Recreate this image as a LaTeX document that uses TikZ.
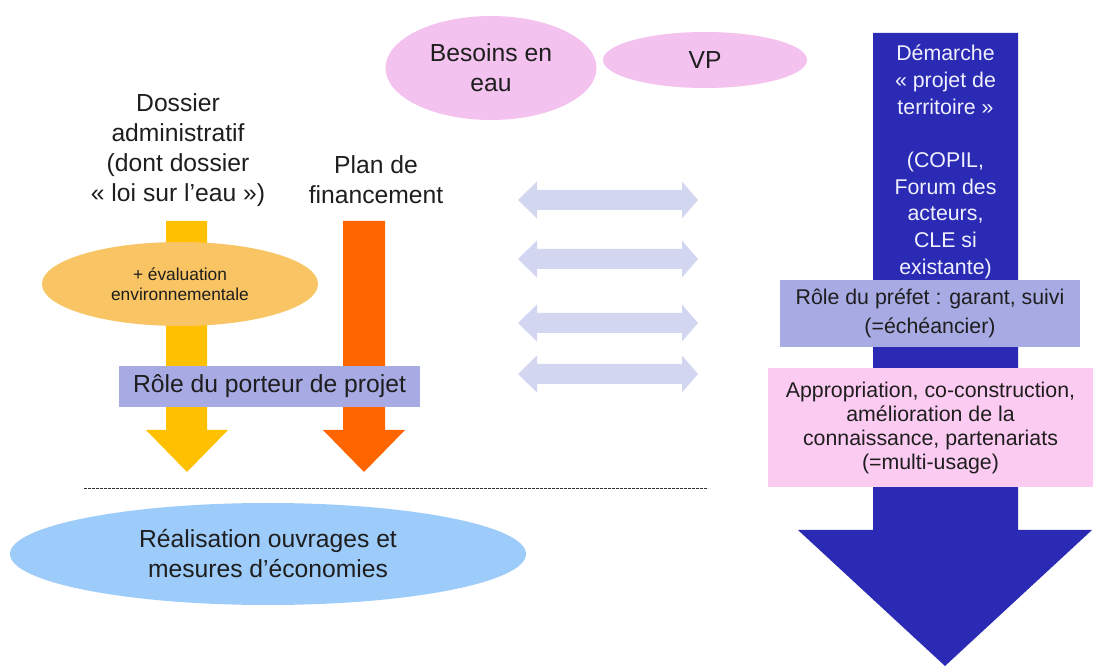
\documentclass[tikz,border=0pt]{standalone}
\usepackage{fontspec}
\setmainfont{Liberation Sans}
\usetikzlibrary{shapes.geometric}

\definecolor{clrneed}{HTML}{F4C2EE}
\definecolor{clrdossier}{HTML}{FFC000}
\definecolor{clrfinance}{HTML}{FF6600}
\definecolor{clreval}{HTML}{F9C463}
\definecolor{clrrole}{HTML}{A8AAE4}
\definecolor{clrusage}{HTML}{FCCBF2}
\definecolor{clrterritoire}{HTML}{2A2AB5}
\definecolor{clrlink}{HTML}{D3D6F1}
\definecolor{clrworks}{HTML}{9DCBFA}
\definecolor{clrtext}{HTML}{1E1E1E}

\begin{document}
\begin{tikzpicture}[x=0.75pt,y=-0.75pt,
    bigtext/.style={font=\fontsize{18.5}{22.5}\selectfont,text=clrtext,align=center},
    midtext/.style={font=\fontsize{16}{19}\selectfont,text=clrtext,align=center},
    bubble/.style={ellipse,inner sep=0pt,align=center},
    rolebox/.style={rectangle,fill=clrrole,inner sep=0pt,align=center}]

\def\px{0.75pt}

\useasboundingbox (0,0) rectangle (1101,666);

% exchanges between both approaches
\foreach \y in {200,259,323,374}
	\fill [clrlink] (518,\y) -- (537,\y-18.5) -- (537,\y-10) -- (682,\y-10)
	      -- (682,\y-18.5) -- (698,\y) -- (682,\y+18.5) -- (682,\y+10)
	      -- (537,\y+10) -- (537,\y+18.5) -- cycle;

% administrative file
\fill [clrdossier] (166,221) -- (207,221) -- (207,430) -- (228,430)
      -- (187,472) -- (146,430) -- (166,430) -- cycle;
% funding plan
\fill [clrfinance] (343,221) -- (385,221) -- (385,430) -- (405,430)
      -- (364,472) -- (323,430) -- (343,430) -- cycle;
% territory project
\fill [clrterritoire] (873,33) -- (1018,33) -- (1018,530) -- (1092,530)
      -- (945,666) -- (798,530) -- (873,530) -- cycle;

% works below the line
\draw [black!80,line width=0.6pt,dash pattern=on 2pt off 1pt] (84,488) -- (708,488);

% needs
\node [bubble,fill=clrneed,minimum width=211*\px,minimum height=104*\px,bigtext] (besoins) at (491,68) {Besoins en\\eau};
\node [bubble,fill=clrneed,minimum width=204*\px,minimum height=56*\px,bigtext] (vp) at (705,60) {VP};

% project owner side
\node [bigtext] (dossier) at (178,150) {Dossier\\administratif\\(dont dossier\\« loi sur l’eau »)};
\node [bigtext] (plan) at (376,180) {Plan de\\financement};
\node [bubble,fill=clreval,minimum width=276*\px,minimum height=84*\px,font=\fontsize{13}{15}\selectfont,text=clrtext] (evaluation) at (180,284) {+ évaluation\\environnementale};
\node [rolebox,minimum width=301*\px,minimum height=41*\px,bigtext] (porteur) at (269.5,386.5) {Rôle du porteur de projet};

% territory side
\node [midtext,font=\fontsize{16}{20}\selectfont,text=white!94!blue] (demarche) at (945.5,162) {Démarche\\« projet de\\territoire »\\[20pt](COPIL,\\Forum des\\acteurs,\\CLE si\\existante)};
\node [rolebox,minimum width=300*\px,minimum height=67*\px,midtext,font=\fontsize{16}{21.5}\selectfont] (prefet) at (930,313.5) {Rôle du préfet : garant, suivi\\(=échéancier)};
\node [rectangle,fill=clrusage,inner sep=0pt,minimum width=325*\px,minimum height=119*\px,midtext,font=\fontsize{16}{18}\selectfont] (usage) at (930.5,428) {Appropriation, co-construction,\\amélioration de la\\connaissance, partenariats\\(=multi-usage)};

% realisation
\node [bubble,fill=clrworks,minimum width=516*\px,minimum height=102*\px,bigtext] (realisation) at (268,554) {Réalisation ouvrages et\\mesures d'économies};

\end{tikzpicture}
\end{document}
